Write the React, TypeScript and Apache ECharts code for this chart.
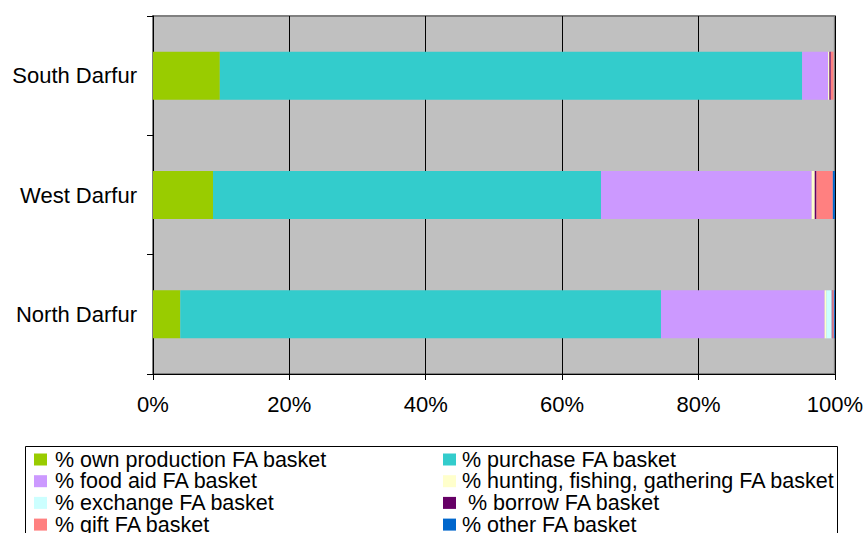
import React, { useEffect, useRef } from "react";
import * as echarts from "echarts";

const categories = ["North Darfur", "West Darfur", "South Darfur"];
const seriesNames = [
  "% own production FA basket",
  "% purchase FA basket",
  "% food aid FA basket",
  "% hunting, fishing, gathering FA basket",
  "% exchange FA basket",
  " % borrow FA basket",
  "% gift FA basket",
  "% other FA basket",
];
const colors = ["#99CC00", "#33CCCC", "#CC99FF", "#FFFFCC", "#CCFFFF", "#660066", "#FF8080", "#0066CC"];
// values per category: North, West, South
const ownProduction = [4.0, 8.8, 9.8];
const purchase = [70.5, 56.9, 85.4];
const foodAid = [24.0, 30.9, 3.8];
const hunting = [0.25, 0.45, 0.2];
const exchange = [0.8, 0.0, 0.0];
const borrow = [0.1, 0.25, 0.2];
const gift = [0.2, 2.4, 0.4];
const other = [0.15, 0.35, 0.0];
const xTicks = [0, 20, 40, 60, 80, 100];

const allValues = [ownProduction, purchase, foodAid, hunting, exchange, borrow, gift, other];

export default function App() {
  const ref = useRef<HTMLDivElement>(null);
  useEffect(() => {
    if (!ref.current) return;
    const chart = echarts.init(ref.current, null, { renderer: "svg" });
    const font = "Arial, 'Liberation Sans', sans-serif";
    const rowH = 21.7;
    const legends = seriesNames.map((name, i) => {
      const col = i % 2;
      const row = Math.floor(i / 2);
      return {
        left: col === 0 ? 34 : 443,
        top: 448.5 + row * rowH,
        orient: "horizontal",
        itemWidth: 13,
        itemHeight: 12,
        icon: "rect",
        padding: 0,
        data: [name],
        textStyle: {
          fontSize: 21.5,
          fontFamily: font,
          color: "#000",
          lineHeight: rowH,
          padding: [0, 0, 0, col === 0 ? 3 : 1],
        },
      };
    });
    chart.setOption({
      animation: false,
      textStyle: { fontFamily: font },
      grid: {
        left: 153,
        right: 31,
        top: 16,
        bottom: 159,
        show: true,
        backgroundColor: "#C0C0C0",
        borderColor: "#808080",
        borderWidth: 2,
      },
      xAxis: {
        type: "value",
        min: xTicks[0],
        max: xTicks[xTicks.length - 1],
        interval: 20,
        axisLine: { show: true, lineStyle: { color: "#000", width: 1 } },
        axisTick: { show: true, length: 6, lineStyle: { color: "#000" } },
        axisLabel: { formatter: "{value}%", fontSize: 22, color: "#000", margin: 19, fontFamily: font },
        splitLine: { show: true, lineStyle: { color: "#000", width: 1 } },
      },
      yAxis: {
        type: "category",
        data: categories,
        axisLine: { show: true, lineStyle: { color: "#000", width: 1 } },
        axisTick: { show: true, length: 6, lineStyle: { color: "#000" } },
        axisLabel: { fontSize: 22, color: "#000", margin: 16, fontFamily: font },
        splitLine: { show: false },
      },
      legend: legends,
      graphic: [
        {
          type: "rect",
          left: 23,
          top: 444,
          shape: { width: 812, height: 100 },
          style: { fill: "none", stroke: "#000", lineWidth: 1 },
          z: -1,
        },
      ],
      series: seriesNames.map((name, i) => ({
        name,
        type: "bar",
        stack: "total",
        barWidth: 48,
        data: allValues[i],
        itemStyle: { color: colors[i] },
      })),
    });
    return () => chart.dispose();
  }, []);
  return <div ref={ref} style={{ width: 866, height: 533, position: "absolute", left: 0, top: 0 }} />;
}
